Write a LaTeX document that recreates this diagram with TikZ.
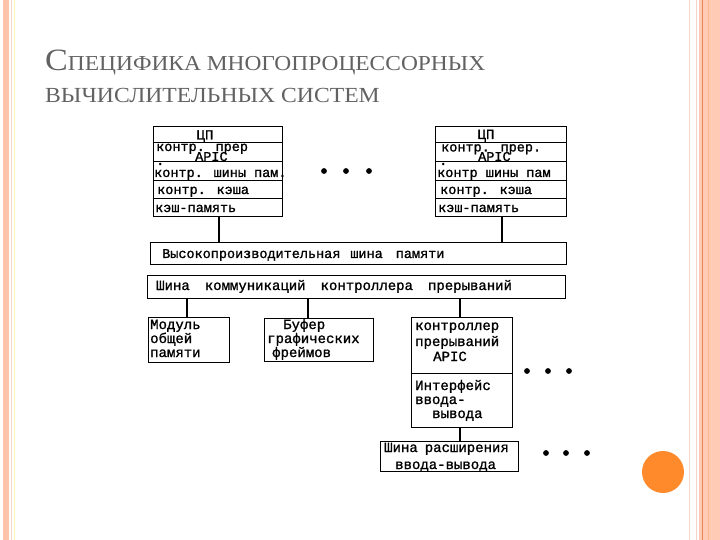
\documentclass[tikz,border=0pt]{standalone}
\usepackage{fontspec}
\setmainfont{Liberation Serif}
\newfontfamily\dgfont[FakeBold=1.2]{Liberation Mono}
\newfontfamily\titlefont[FakeStretch=1.1]{Liberation Serif}
\definecolor{salmon}{HTML}{FFC4AA}
\definecolor{salmonB}{HTML}{FFCBB5}
\definecolor{stripeD}{HTML}{E8865A}
\definecolor{stripeL}{HTML}{F3D6C6}
\definecolor{dotor}{HTML}{FF8A2C}
\definecolor{titlegray}{HTML}{626262}
\begin{document}
\begin{tikzpicture}[x=1pt,y=-1pt,
  box/.style={draw=black, line width=1pt, inner sep=0pt, rectangle},
  conn/.style={draw=black, line width=2.6pt},
  lbl/.style={anchor=base west, inner sep=0pt, font=\dgfont\fontsize{14}{14}\selectfont},
  lbls/.style={anchor=base west, inner sep=0pt, font=\dgfont\fontsize{13.5}{14}\selectfont},
  dotc/.style={fill=black}]
\useasboundingbox (0,0) rectangle (720,540);
\fill[white] (0,0) rectangle (720,540);
% side stripes
\fill[salmon] (3,0) rectangle (9,540);
\draw[stripeL, line width=0.8pt] (11.5,0) -- (11.5,540);
\draw[yellow!30, line width=0.6pt] (14.5,0) -- (14.5,540);
\draw[stripeL, line width=1pt] (689,0) -- (689,540);
\draw[stripeL, line width=1pt] (696.5,0) -- (696.5,540);
\fill[salmonB] (699,0) rectangle (720,540);
\draw[stripeD, line width=0.9pt] (702.5,0) -- (702.5,540);
\draw[salmon!80!orange, line width=0.6pt] (708,0) -- (708,540);
\fill[dotor] (663,472) circle (21);
% title
\node[anchor=base west, inner sep=0pt, text=titlegray] (title1) at (45,71)
  {\titlefont\fontsize{31}{31}\selectfont С\fontsize{21.3}{21.3}\selectfont ПЕЦИФИКА МНОГОПРОЦЕССОРНЫХ};
\node[anchor=base west, inner sep=0pt, text=titlegray] (title2) at (45,103)
  {\titlefont\fontsize{21.5}{21.5}\selectfont ВЫЧИСЛИТЕЛЬНЫХ СИСТЕМ};
% boxes
\node[box, minimum width=129pt, minimum height=90pt] (cpuL) at (217.5,172) {};
\node[box, minimum width=131pt, minimum height=90pt] (cpuR) at (500.5,172) {};
\foreach \yy in {143,162,181,199}{
  \draw[line width=1pt] (cpuL.west |- 0,\yy) -- (cpuL.east |- 0,\yy);
  \draw[line width=1pt] (cpuR.west |- 0,\yy) -- (cpuR.east |- 0,\yy);
}
\node[box, minimum width=416pt, minimum height=22pt] (bus1) at (358,253) {};
\node[box, minimum width=418pt, minimum height=23pt] (bus2) at (356,286.5) {};
\node[box, minimum width=81pt, minimum height=45pt] (mod) at (188.5,339.5) {};
\node[box, minimum width=109pt, minimum height=43pt] (buf) at (318.5,339.5) {};
\node[box, minimum width=101pt, minimum height=110pt] (ctl) at (461.5,372) {};
\draw[line width=1pt] (ctl.west |- 0,373) -- (ctl.east |- 0,373);
\node[box, minimum width=138pt, minimum height=30pt] (exp) at (449,456) {};
% connectors
\draw[conn] ([xshift=1.5pt]cpuL.south) -- ([xshift=1.5pt]cpuL.south |- bus1.north);
\draw[conn] ([xshift=1.5pt]cpuR.south) -- ([xshift=1.5pt]cpuR.south |- bus1.north);
\draw[conn] ([xshift=-1.5pt]mod.north |- bus2.south) -- ([xshift=-1.5pt]mod.north);
\draw[conn] ([xshift=-10.5pt]buf.north |- bus2.south) -- ([xshift=-10.5pt]buf.north);
\draw[conn] ([xshift=-1.5pt]ctl.north |- bus2.south) -- ([xshift=-1.5pt]ctl.north);
\draw[conn] ([xshift=-1.5pt]ctl.south) -- ([xshift=-1.5pt]ctl.south |- exp.north);
% dots
\foreach \xx in {324,346,369}{\fill[dotc] (\xx,171) circle (2.9);}
\foreach \xx in {527,548,569}{\fill[dotc] (\xx,371) circle (2.9);}
\foreach \xx in {546,566,587}{\fill[dotc] (\xx,453) circle (2.9);}
% CPU left texts
\node[lbl, anchor=base] (l1) at (205,139.5) {ЦП};
\node[lbls] (l2) at (156,151) {контр. прер};
\node[lbls] (l3) at (195,161) {APIC};
\node[lbls] (l4) at (156,165) {.};
\node[lbls] (l5) at (154,177) {контр. шины пам.};
\node[lbls] (l6) at (157,194) {контр. кэша};
\node[lbls] (l7) at (155,212) {кэш-память};
% CPU right texts
\node[lbl, anchor=base] (r1) at (486,139) {ЦП};
\node[lbls] (r2) at (441,151.5) {контр. прер.};
\node[lbls] (r3) at (478,161) {APIC};
\node[lbls] (r4) at (439,165) {.};
\node[lbls] (r5) at (437,177) {контр шины пам};
\node[lbls] (r6) at (440,194) {контр. кэша};
\node[lbls] (r7) at (438,212) {кэш-память};
% buses
\node[lbls] (b1) at (162,258) {Высокопроизводительная\hspace{10pt}шина\hspace{13pt}памяти};
\node[lbl] (b2) at (156,290) {Шина\hspace{15pt}коммуникаций\hspace{15pt}контроллера\hspace{15pt}прерываний};
% lower boxes
\node[lbl] (m1) at (150,329) {Модуль};
\node[lbl] (m2) at (150,343) {общей};
\node[lbl] (m3) at (150,357) {памяти};
\node[lbl] (f1) at (283,329) {Буфер};
\node[lbl] (f2) at (267,343) {графических};
\node[lbl] (f3) at (272,357) {фреймов};
\node[lbl] (c1) at (415,330) {контроллер};
\node[lbl] (c2) at (415,346) {прерываний};
\node[lbl] (c3) at (433,361) {APIC};
\node[lbl] (c4) at (415,390) {Интерфейс};
\node[lbl] (c5) at (415,404) {ввода-};
\node[lbl] (c6) at (432,418) {вывода};
\node[lbl] (e1) at (384,452) {Шина\hspace{7pt}расширения};
\node[lbl] (e2) at (395,469) {ввода-вывода};
\end{tikzpicture}
\end{document}
